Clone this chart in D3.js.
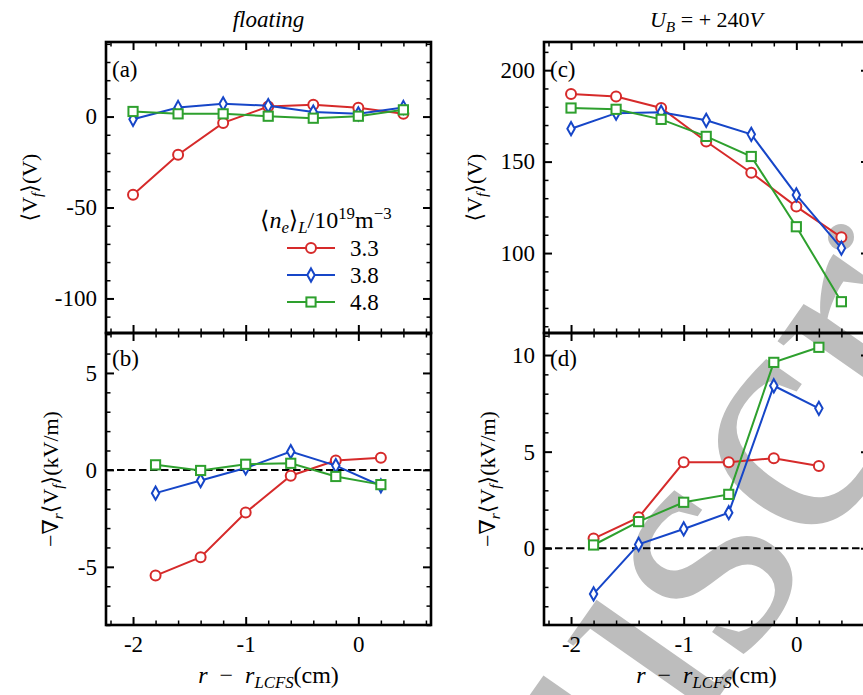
<!DOCTYPE html>
<html><head><meta charset="utf-8">
<script src="https://cdn.jsdelivr.net/npm/d3@7"></script>
<style>
body{margin:0;background:#fff}
svg{display:block}
svg text{font-family:"Liberation Serif","DejaVu Serif","Times New Roman",serif;}
svg text.wm{font-family:"Liberation Serif","DejaVu Serif","Times New Roman",serif;}
</style>
</head><body>
<svg id="chart" width="863" height="695"></svg>
<script>
// ---------------- data ----------------
const xProfile = [-2, -1.6, -1.2, -0.8, -0.4, 0, 0.4];
const xGradient = [-1.8, -1.4, -1.0, -0.6, -0.2, 0.2];
const densityLabels = ["3.3", "3.8", "4.8"];

const vfFloating33 = [-43, -21, -3.5, 5.5, 6.5, 4.8, 1.5];
const vfFloating38 = [-1.5, 5, 7, 6, 2.5, 1.5, 5];
const vfFloating48 = [2.8, 1.5, 1.5, 0.2, -0.9, 0.2, 3.7];

const erFloating33 = [-5.45, -4.5, -2.2, -0.3, 0.48, 0.62];
const erFloating38 = [-1.2, -0.55, 0.1, 0.94, 0.22, -0.82];
const erFloating48 = [0.26, -0.03, 0.29, 0.34, -0.34, -0.76];

const vfBiased33 = [187, 185.6, 179.3, 161, 143.9, 125.4, 108.6];
const vfBiased38 = [168, 176.5, 177, 172.6, 164.9, 131.8, 102.7];
const vfBiased48 = [179.3, 178.6, 173.1, 163.8, 152.8, 114.4, 73.4];

const erBiased33 = [0.5, 1.6, 4.45, 4.45, 4.66, 4.26];
const erBiased38 = [-2.36, 0.2, 1.0, 1.84, 8.41, 7.24];
const erBiased48 = [0.17, 1.38, 2.38, 2.79, 9.62, 10.4];

const xTickValues = [-2, -1, 0];
const xTickLabels = ["-2", "-1", "0"];
const yTicksA = [-100, -50, 0];   const yLabelsA = ["-100", "-50", "0"];
const yTicksB = [-5, 0, 5];       const yLabelsB = ["-5", "0", "5"];
const yTicksC = [100, 150, 200];  const yLabelsC = ["100", "150", "200"];
const yTicksD = [0, 5, 10];       const yLabelsD = ["0", "5", "10"];

// ---------------- style ----------------
const colors = ["#d62a2a", "#1646c8", "#2ea02e"];
const shapes = ["circle", "diamond", "square"];
const FS = 23;

const svg = d3.select("#chart");

// watermark (decorative, behind the data)
const wm = svg.append("g").attr("fill", "#bdbdbd");
const wmText = wm.append("text").attr("class", "wm")
  .attr("transform", "translate(284,1318) rotate(-55)")
  .style("font-size", "340px");
wmText.append("tspan").text("Manuscr");
wmText.append("tspan").attr("fill-opacity", 0).text("ipt");
wm.append("circle").attr("cx", 841).attr("cy", 237).attr("r", 13);

const L1 = 106, L2 = 544, W = 325;
const T = 42, M = 333, B = 625;

function rich(text, parts, size) {
  let cur = 0;
  parts.forEach(p => {
    const shift = p.sub ? 0.22 * size : (p.sup ? -0.38 * size : 0);
    const ts = text.append("tspan").attr("dy", shift - cur).text(p.t);
    cur = shift;
    if (p.i) ts.style("font-style", "italic");
    if (p.sub || p.sup) ts.style("font-size", (size * 0.7) + "px");
  });
}

function marker(sel, shape, color) {
  if (shape === "circle") {
    sel.append("circle").attr("r", 5);
  } else if (shape === "diamond") {
    sel.append("path").attr("d", "M0,-6.6L3.7,0L0,6.6L-3.7,0Z");
  } else {
    sel.append("rect").attr("x", -4.6).attr("y", -4.6).attr("width", 9.2).attr("height", 9.2);
  }
  sel.selectAll("circle,path,rect").attr("fill", "#fff").attr("stroke", color).attr("stroke-width", 2);
}

function isMajor(v, step) { return Math.abs(v / step - Math.round(v / step)) < 1e-6; }

function panel(cfg) {
  const g = svg.append("g");
  const x = d3.scaleLinear().domain([-2.24, 0.645]).range([cfg.left, cfg.left + W]);
  const y = d3.scaleLinear().domain(cfg.yDomain).range([cfg.bottom, cfg.top]);

  const xMinor = d3.range(-11, 4).map(i => i * 0.2).filter(v => !isMajor(v, 1));
  const yMinor = d3.range(Math.ceil(cfg.yDomain[0] / cfg.minor), Math.floor(cfg.yDomain[1] / cfg.minor) + 1)
    .map(i => i * cfg.minor).filter(v => !isMajor(v, cfg.major));

  const axes = [];
  axes.push(g.append("g").attr("transform", `translate(0,${cfg.bottom})`)
    .call(d3.axisBottom(x).tickValues(xTickValues).tickSize(-8).tickPadding(11)
      .tickFormat((d, i) => cfg.xLabels ? xTickLabels[i] : "")));
  axes.push(g.append("g").attr("transform", `translate(0,${cfg.bottom})`)
    .call(d3.axisBottom(x).tickValues(xMinor).tickSize(-4.5).tickFormat("")));
  axes.push(g.append("g").attr("transform", `translate(0,${cfg.top})`)
    .call(d3.axisTop(x).tickValues(xTickValues).tickSize(-8).tickFormat("")));
  axes.push(g.append("g").attr("transform", `translate(0,${cfg.top})`)
    .call(d3.axisTop(x).tickValues(xMinor).tickSize(-4.5).tickFormat("")));
  axes.push(g.append("g").attr("transform", `translate(${cfg.left},0)`)
    .call(d3.axisLeft(y).tickValues(cfg.yTicks).tickSize(-8).tickPadding(9)
      .tickFormat((d, i) => cfg.yLabels[i])));
  axes.push(g.append("g").attr("transform", `translate(${cfg.left},0)`)
    .call(d3.axisLeft(y).tickValues(yMinor).tickSize(-4.5).tickFormat("")));
  axes.push(g.append("g").attr("transform", `translate(${cfg.left + W},0)`)
    .call(d3.axisRight(y).tickValues(cfg.yTicks).tickSize(-8).tickFormat("")));
  axes.push(g.append("g").attr("transform", `translate(${cfg.left + W},0)`)
    .call(d3.axisRight(y).tickValues(yMinor).tickSize(-4.5).tickFormat("")));

  axes.forEach((a, i) => {
    a.select(".domain").remove();
    a.attr("font-family", null).attr("font-size", null);
    a.selectAll("text").style("font-size", FS + "px").attr("fill", "#000");
    a.selectAll("line").attr("stroke", "#000").attr("stroke-width", i % 2 === 0 ? 2 : 1.5);
  });

  if (cfg.zeroLine) {
    g.append("line").attr("x1", cfg.left).attr("x2", cfg.left + W)
      .attr("y1", y(0)).attr("y2", y(0))
      .attr("stroke", "#000").attr("stroke-width", 2).attr("stroke-dasharray", "7.5,3.5");
  }

  g.append("rect").attr("x", cfg.left).attr("y", cfg.top).attr("width", W).attr("height", cfg.bottom - cfg.top)
    .attr("fill", "none").attr("stroke", "#000").attr("stroke-width", 2.6);

  const line = d3.line().x(d => x(d[0])).y(d => y(d[1]));
  cfg.series.forEach((vals, k) => {
    const pts = cfg.xs.map((xv, j) => [xv, vals[j]]);
    g.append("path").datum(pts).attr("d", line).attr("fill", "none")
      .attr("stroke", colors[k]).attr("stroke-width", 2);
    pts.forEach(p => {
      const mg = g.append("g").attr("transform", `translate(${x(p[0])},${y(p[1])})`);
      marker(mg, shapes[k], colors[k]);
    });
  });

  g.append("text").attr("x", cfg.left + 6).attr("y", cfg.top + (cfg.top < 100 ? 35 : 33))
    .style("font-size", FS + "px").text(cfg.tag);
  return g;
}

panel({ left: L1, top: T, bottom: M, yDomain: [-119, 41], minor: 10, major: 50,
  yTicks: yTicksA, yLabels: yLabelsA, xs: xProfile, tag: "(a)",
  series: [vfFloating33, vfFloating38, vfFloating48] });
panel({ left: L1, top: M, bottom: B, yDomain: [-8, 7.06], minor: 1, major: 5,
  yTicks: yTicksB, yLabels: yLabelsB, xs: xGradient, tag: "(b)", xLabels: true, zeroLine: true,
  series: [erFloating33, erFloating38, erFloating48] });
panel({ left: L2, top: T, bottom: M, yDomain: [56.3, 215.4], minor: 10, major: 50,
  yTicks: yTicksC, yLabels: yLabelsC, xs: xProfile, tag: "(c)",
  series: [vfBiased33, vfBiased38, vfBiased48] });
panel({ left: L2, top: M, bottom: B, yDomain: [-3.97, 11.14], minor: 1, major: 5,
  yTicks: yTicksD, yLabels: yLabelsD, xs: xGradient, tag: "(d)", xLabels: true, zeroLine: true,
  series: [erBiased33, erBiased38, erBiased48] });

function label(x, y, parts, rot, size) {
  const s = size || FS;
  const t = svg.append("text").style("font-size", s + "px")
    .attr("text-anchor", "middle")
    .attr("transform", `translate(${x},${y})` + (rot ? " rotate(-90)" : ""));
  rich(t, parts, s);
  return t;
}
label(L1 + W / 2, 27, [{ t: "floating", i: 1 }]);
label(L2 + W / 2, 27, [{ t: "U", i: 1 }, { t: "B", i: 1, sub: 1 }, { t: " = + 240" }, { t: "V", i: 1 }], false, 22);

const yTop = [{ t: "⟨V" }, { t: "f", i: 1, sub: 1 }, { t: "⟩(V)" }];
const yBot = [{ t: "−∇" }, { t: "r", i: 1, sub: 1 }, { t: "⟨V" }, { t: "f", i: 1, sub: 1 }, { t: "⟩(kV/m)" }];
const xLab = [{ t: "r", i: 1 }, { t: "\u2002−\u2002" }, { t: "r", i: 1 }, { t: "LCFS", i: 1, sub: 1 }, { t: "(cm)" }];
label(37, (T + M) / 2, yTop, true, 22);
label(58, (M + B) / 2, yBot, true, 22);
label(482, (T + M) / 2, yTop, true, 22);
label(495, (M + B) / 2, yBot, true, 22);
label(L1 + W / 2, 683, xLab, false, 24);
label(L2 + W / 2, 683, xLab, false, 24);

// legend
const lg = svg.append("g");
const lt = lg.append("text").attr("x", 260).attr("y", 228).style("font-size", "24px");
rich(lt, [{ t: "⟨" }, { t: "n", i: 1 }, { t: "e", i: 1, sub: 1 }, { t: "⟩" }, { t: "L", i: 1, sub: 1 },
  { t: "/10" }, { t: "19", sup: 1 }, { t: "m" }, { t: "−3", sup: 1 }], 24);
densityLabels.forEach((lab, k) => {
  const yy = 248 + k * 27;
  lg.append("line").attr("x1", 287).attr("x2", 335).attr("y1", yy).attr("y2", yy)
    .attr("stroke", colors[k]).attr("stroke-width", 2);
  marker(lg.append("g").attr("transform", `translate(311,${yy})`), shapes[k], colors[k]);
  lg.append("text").attr("x", 350).attr("y", yy + 8).style("font-size", FS + "px").text(lab);
});
</script>
</body></html>
